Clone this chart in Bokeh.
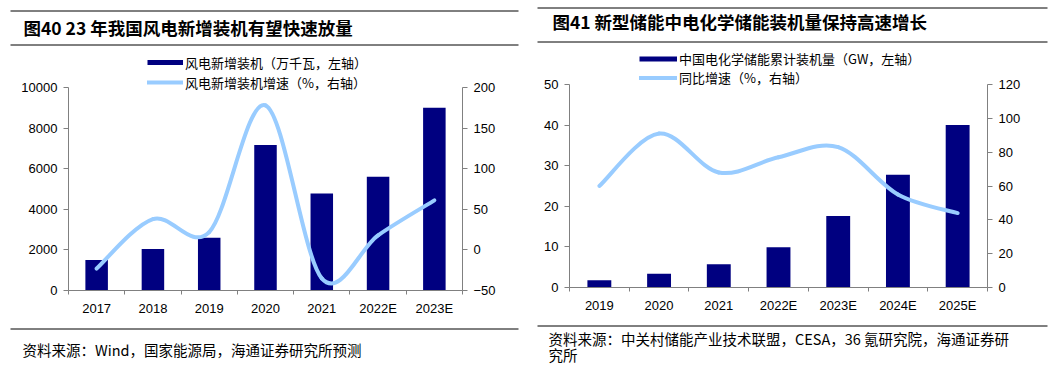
from bokeh.plotting import figure
from bokeh.layouts import row
from bokeh.models import (Range1d, LinearAxis, FixedTicker, Label, Legend, LegendItem)
from bokeh.embed import file_html
from bokeh.resources import INLINE

# ---------------- data ----------------
wind_years = ["2017", "2018", "2019", "2020", "2021", "2022E", "2023E"]
wind_install = [1500, 2050, 2600, 7170, 4780, 5600, 9000]      # 万千瓦, left axis
wind_growth = [-23, 38, 22, 178, -35, 18, 61]                   # %, right axis

storage_years = ["2019", "2020", "2021", "2022E", "2023E", "2024E", "2025E"]
storage_cum = [1.8, 3.4, 5.7, 9.9, 17.6, 27.8, 40.0]            # GW, left axis
storage_growth = [60, 91, 68, 77, 83, 55, 44]                   # %, right axis

left_ticks_1 = [0, 2000, 4000, 6000, 8000, 10000]
right_ticks_1 = [-50, 0, 50, 100, 150, 200]
left_ticks_2 = [0, 10, 20, 30, 40, 50]
right_ticks_2 = [0, 20, 40, 60, 80, 100, 120]

NAVY = "#000080"
LIGHT = "#99CCFF"
AXIS = "#808080"
CJK = "Noto Sans CJK SC"
LAT = "Liberation Sans"
H = 368


def smooth_segments(xs, ys):
    """Bezier control points (Catmull-Rom style, like Excel's smoothed line)."""
    n = len(xs)
    seg = dict(x0=[], y0=[], x1=[], y1=[], cx0=[], cy0=[], cx1=[], cy1=[])
    for i in range(n - 1):
        xp, yp = (xs[i - 1], ys[i - 1]) if i > 0 else (xs[i], ys[i])
        xn, yn = (xs[i + 2], ys[i + 2]) if i + 2 < n else (xs[i + 1], ys[i + 1])
        seg["x0"].append(xs[i]); seg["y0"].append(ys[i])
        seg["x1"].append(xs[i + 1]); seg["y1"].append(ys[i + 1])
        seg["cx0"].append(xs[i] + (xs[i + 1] - xp) / 6.0)
        seg["cy0"].append(ys[i] + (ys[i + 1] - yp) / 6.0)
        seg["cx1"].append(xs[i + 1] - (xn - xs[i]) / 6.0)
        seg["cy1"].append(ys[i + 1] - (yn - ys[i]) / 6.0)
    return seg


def panel(width, ax_l, ax_r, ax_top, ax_bot, cats, bars, line, lrange, rrange,
          lticks, rticks, title, title_pos, rules, source_lines,
          legend_labels, legend_pos, row_h, glyph_w):
    n = len(cats)
    u = (ax_r - ax_l) / n                                   # px per category
    kl = (lrange[1] - lrange[0]) / (ax_bot - ax_top)        # left units per px
    kr = (rrange[1] - rrange[0]) / (ax_bot - ax_top)        # right units per px

    def X(px):
        return (px - ax_l) / u

    def Y(py):
        return lrange[0] + (ax_bot - py) * kl

    p = figure(width=width, height=H, output_backend="svg", toolbar_location=None,
               title=None,
               x_range=Range1d(X(0), X(width)),
               y_range=Range1d(Y(H), Y(0)),
               min_border_left=0, min_border_right=0, min_border_top=0, min_border_bottom=0)
    p.extra_y_ranges = {"right": Range1d(rrange[0] - (H - ax_bot) * kr,
                                         rrange[0] + ax_bot * kr)}
    p.outline_line_color = None
    p.xgrid.visible = False
    p.ygrid.visible = False

    centers = [i + 0.5 for i in range(n)]
    bounds = [i for i in range(n + 1)]

    xa = p.xaxis[0]
    xa.fixed_location = lrange[0]
    xa.bounds = (0, n)
    xa.ticker = FixedTicker(ticks=centers, minor_ticks=bounds)
    xa.major_label_overrides = {c: lab for c, lab in zip(centers, cats)}
    xa.major_tick_out = 0
    xa.major_tick_in = 0
    xa.minor_tick_out = 4
    xa.minor_tick_in = 0
    xa.major_label_standoff = 6
    xa.minor_tick_line_color = AXIS

    ya = p.yaxis[0]
    ya.fixed_location = 0
    ya.ticker = FixedTicker(ticks=lticks)
    ya.bounds = (lrange[0], lrange[1])
    yr = LinearAxis(y_range_name="right", ticker=FixedTicker(ticks=rticks),
                    bounds=(rrange[0], rrange[1]), fixed_location=n)
    p.add_layout(yr, "right")
    for ax in [ya, yr]:
        ax.major_tick_out = 5
        ax.major_tick_in = 0
        ax.minor_tick_line_color = None
        ax.major_label_standoff = 6
    for ax in [xa, ya, yr]:
        ax.axis_line_color = AXIS
        ax.major_tick_line_color = AXIS
        ax.major_label_text_font = LAT
        ax.major_label_text_font_size = "13px"
        ax.major_label_text_color = "black"

    p.vbar(x=centers, top=bars, width=0.4, bottom=0, fill_color=NAVY, line_color=None)
    seg = smooth_segments(centers, line)
    curve = p.bezier(source=seg, x0="x0", y0="y0", x1="x1", y1="y1", cx0="cx0", cy0="cy0",
                     cx1="cx1", cy1="cy1", line_color=LIGHT, line_width=4, line_cap="round",
                     y_range_name="right")

    # legend keys (bar key drawn as a short thick navy stroke, like the reference)
    k1 = p.line(x=centers, y=[float("nan")] * n, line_color=NAVY, line_width=5, line_cap="butt")
    leg = Legend(items=[LegendItem(label=legend_labels[0], renderers=[k1]),
                        LegendItem(label=legend_labels[1], renderers=[curve])],
                 location=(legend_pos[0], H - legend_pos[1]),
                 padding=0, margin=0, spacing=0, label_standoff=2,
                 glyph_width=glyph_w, glyph_height=row_h, label_height=row_h,
                 border_line_color=None, background_fill_alpha=0,
                 label_text_font=CJK, label_text_font_size="13px",
                 label_text_color="black")
    p.add_layout(leg)

    # header / footer rules and texts
    for (x0, x1, y) in rules:
        p.segment(x0=[X(x0)], y0=[Y(y + 0.5)], x1=[X(x1)], y1=[Y(y + 0.5)],
                  line_color="black", line_width=1)
    p.add_layout(Label(x=X(title_pos[0]), y=Y(title_pos[1]), text=title, text_font=CJK,
                       text_font_size="17.5px", text_font_style="bold",
                       text_baseline="middle", text_align="left", text_color="black"))
    for (txt, sx, sy) in source_lines:
        p.add_layout(Label(x=X(sx), y=Y(sy), text=txt, text_font=CJK,
                           text_font_size="14.5px", text_baseline="middle",
                           text_align="left", text_color="black"))
    return p


p1 = panel(530, 68, 462, 87, 290, wind_years, wind_install, wind_growth,
           (0, 10000), (-50, 200), left_ticks_1, right_ticks_1,
           "图40 23 年我国风电新增装机有望快速放量", (23, 27),
           [(10, 518, 10), (10, 518, 44), (10, 518, 328)],
           [("资料来源：Wind，国家能源局，海通证券研究所预测", 22, 349)],
           ["风电新增装机（万千瓦，左轴）", "风电新增装机增速（%，右轴）"],
           (147, 92), 20, 36)

p2 = panel(529, 39, 457, 84, 287, storage_years, storage_cum, storage_growth,
           (0, 50), (0, 120), left_ticks_2, right_ticks_2,
           "图41 新型储能中电化学储能装机量保持高速增长", (22, 21),
           [(7, 517, 7), (7, 517, 41), (7, 517, 325)],
           [("资料来源：中关村储能产业技术联盟，CESA，36 氪研究院，海通证券研", 18, 338),
            ("究所", 18, 354)],
           ["中国电化学储能累计装机量（GW，左轴）", "同比增速（%，右轴）"],
           (109, 87), 17, 38)

layout = row(p1, p2)
open("out.html", "w").write(file_html(layout, INLINE))
